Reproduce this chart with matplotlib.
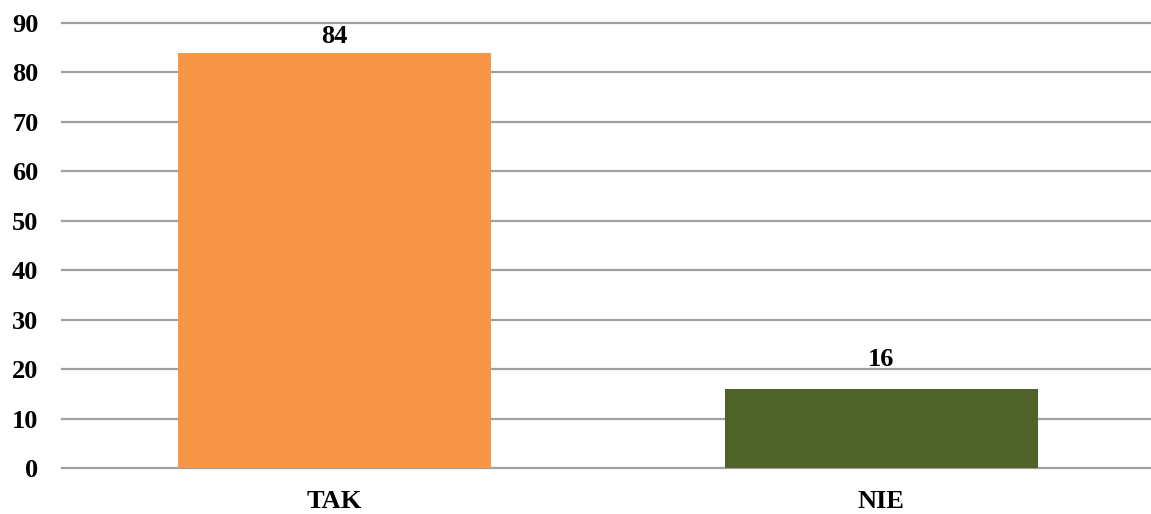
import matplotlib
matplotlib.use("Agg")
import matplotlib.pyplot as plt

categories = ["TAK", "NIE"]
values = [84, 16]
colors = ["#F79646", "#4F6228"]
yticks = [0, 10, 20, 30, 40, 50, 60, 70, 80, 90]
label_gap = [2.0, 4.6]  # label baseline above bar top, in data units

plt.rcParams['font.family'] = ['Liberation Serif', 'DejaVu Serif']
plt.rcParams['font.weight'] = 'bold'

fig = plt.figure(figsize=(11.51, 5.14), dpi=100)
ax = fig.add_axes([62/1151, 1-468/514, 1-62/1151, (468-23)/514])

x = range(len(categories))
bars = ax.bar(x, values, width=0.572, color=colors, zorder=3)
for b, v, g in zip(bars, values, label_gap):
    ax.text(b.get_x() + b.get_width()/2, v + g, str(v), ha='center', va='baseline',
            fontsize=19, fontweight='bold')

ax.set_xlim(-0.498, 1.493)
ax.set_ylim(0, 90)
ax.set_yticks(yticks)
ax.set_xticks(list(x))
ax.set_xticklabels(categories, fontsize=19, fontweight='bold')
ax.tick_params(axis='y', labelsize=19, length=0, pad=17)
ax.tick_params(axis='x', length=0, pad=16)
ax.yaxis.grid(True, color='#A0A0A0', linewidth=1.6, zorder=0)
for gl in ax.get_ygridlines():
    gl.set_clip_on(False)
ax.set_axisbelow(True)
for s in ax.spines.values():
    s.set_visible(False)

fig.savefig("out.png", dpi=100)
